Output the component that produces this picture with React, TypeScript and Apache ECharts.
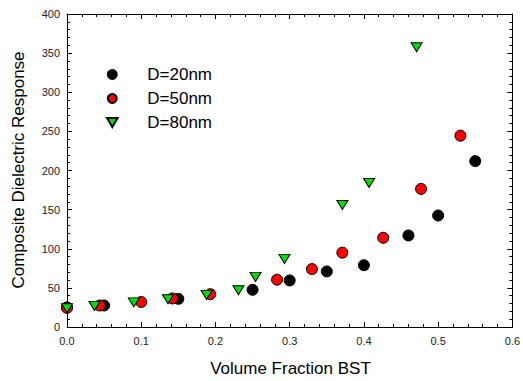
import React, { useEffect, useRef } from "react";
import * as echarts from "echarts";

const seriesNames = ["D=20nm", "D=50nm", "D=80nm"];
const xTitle = "Volume Fraction BST";
const yTitle = "Composite Dielectric Response";

const d20: [number, number][] = [
  [0.0, 25], [0.05, 27.5], [0.15, 36], [0.25, 47.5], [0.3, 59.5], [0.35, 71],
  [0.4, 79], [0.46, 117], [0.5, 142.5], [0.55, 212],
];
const d50: [number, number][] = [
  [0.0, 24.5], [0.044, 27.5], [0.1, 32], [0.142, 36.5], [0.193, 42], [0.283, 60.5],
  [0.33, 74], [0.371, 95], [0.426, 114], [0.477, 176.5], [0.53, 244.5],
];
const d80: [number, number][] = [
  [0.0, 24], [0.037, 27], [0.09, 31.5], [0.136, 35.5], [0.188, 41], [0.231, 47],
  [0.254, 64], [0.293, 87], [0.371, 156], [0.407, 184], [0.471, 357.5],
];

const FONT = "Liberation Sans, Arial, sans-serif";
const TRI = "path://M0,0 L10,0 L5,8.5 Z";

function axisCommon() {
  return {
    axisLine: { show: true, onZero: false, lineStyle: { color: "#000", width: 1 } },
    axisTick: { show: true, inside: true, length: 5, lineStyle: { color: "#000", width: 1 } },
    minorTick: { show: true, splitNumber: 5, length: 3, lineStyle: { color: "#000", width: 1 } },
    splitLine: { show: false },
  };
}

export default function App() {
  const ref = useRef<HTMLDivElement>(null);
  useEffect(() => {
    if (!ref.current) return;
    const chart = echarts.init(ref.current, undefined, { renderer: "svg" });
    chart.setOption({
      animation: false,
      grid: { left: 67, right: 9, top: 14, bottom: 54 },
      legend: {
        orient: "vertical",
        left: 101,
        top: 61,
        itemWidth: 60,
        itemHeight: 9,
        itemGap: 7,
        selectedMode: false,
        textStyle: { fontFamily: FONT, fontSize: 17, color: "#000" },
        data: seriesNames,
      },
      graphic: [
        {
          type: "text",
          x: 290.5,
          y: 360,
          style: {
            text: xTitle,
            fontFamily: FONT,
            fontSize: 17,
            fill: "#000",
            align: "center",
            verticalAlign: "top",
          },
        },
        {
          type: "text",
          x: 18,
          y: 170,
          rotation: Math.PI / 2,
          style: {
            text: yTitle,
            fontFamily: FONT,
            fontSize: 17,
            fill: "#000",
            align: "center",
            verticalAlign: "middle",
          },
        },
      ],
      xAxis: [
        {
          type: "value",
          min: 0,
          max: 0.6,
          interval: 0.1,
          ...axisCommon(),
          axisLabel: {
            fontFamily: FONT,
            fontSize: 11,
            color: "#222",
            margin: 8,
            formatter: (v: number) => v.toFixed(1),
          },
        },
        {
          type: "value",
          position: "top",
          min: 0,
          max: 0.6,
          interval: 0.1,
          ...axisCommon(),
          axisLabel: { show: false },
        },
      ],
      yAxis: [
        {
          type: "value",
          min: 0,
          max: 400,
          interval: 50,
          ...axisCommon(),
          axisLabel: { fontFamily: FONT, fontSize: 11, color: "#222", margin: 7 },
        },
        {
          type: "value",
          position: "right",
          min: 0,
          max: 400,
          interval: 50,
          ...axisCommon(),
          axisLabel: { show: false },
        },
      ],
      series: [
        {
          name: seriesNames[0],
          type: "scatter",
          data: d20,
          symbol: "circle",
          symbolSize: 11,
          itemStyle: { color: "#000", borderColor: "#000", borderWidth: 1, opacity: 1 },
        },
        {
          name: seriesNames[1],
          type: "scatter",
          data: d50,
          symbol: "circle",
          symbolSize: 11,
          itemStyle: { color: "#ff0000", borderColor: "#000", borderWidth: 1, opacity: 1 },
        },
        {
          name: seriesNames[2],
          type: "scatter",
          data: d80,
          symbol: TRI,
          symbolSize: [11, 9],
          itemStyle: { color: "#00e000", borderColor: "#000", borderWidth: 1, opacity: 1 },
        },
      ],
    });
    return () => chart.dispose();
  }, []);
  return <div ref={ref} style={{ width: 523, height: 381, position: "absolute", left: 0, top: 0 }} />;
}
